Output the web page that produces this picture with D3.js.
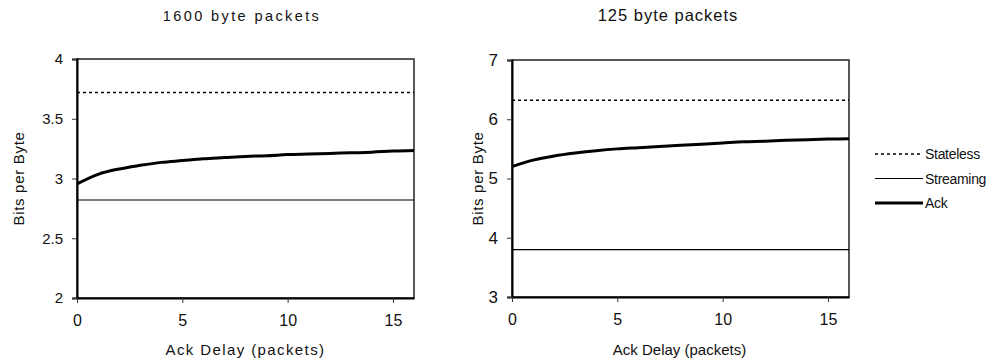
<!DOCTYPE html>
<html>
<head>
	<meta charset="utf-8">
	<style type="text/css">
		body{
			margin: 0;
			background-color: white;
		}
		svg text{
			font-family: "Liberation Sans", Arial, sans-serif;
			fill: #111;
		}
	</style>
	<script src="https://cdn.jsdelivr.net/npm/d3@7"></script>
</head>
<body>
	<div id="chart"></div>

	<script type="text/javascript">
		// values
		const ackDelay = [0, 1, 2, 3, 4, 5, 6, 7, 8, 9, 10, 11, 12, 13, 14, 15, 16];
		const ack1600 = [2.955, 3.035, 3.08, 3.11, 3.135, 3.15, 3.165, 3.175, 3.185, 3.19, 3.2, 3.205, 3.21, 3.215, 3.22, 3.23, 3.235];
		const ack125 = [5.2, 5.31, 5.38, 5.43, 5.47, 5.5, 5.52, 5.54, 5.56, 5.58, 5.6, 5.62, 5.63, 5.645, 5.655, 5.665, 5.67];
		const stateless1600 = 3.72, streaming1600 = 2.82;
		const stateless125 = 6.32, streaming125 = 3.8;
		const xTicks = [0, 5, 10, 15];
		const yTicks1600 = [2, 2.5, 3, 3.5, 4];
		const yTicks125 = [3, 4, 5, 6, 7];
		const legendNames = ['Stateless', 'Streaming', 'Ack'];

		const [W, H] = [997, 362];
		const svg = d3.select('#chart')
		.append('svg')
		.attr('width', W)
		.attr('height', H);

		const styles = {
			Stateless: {w: 1.6, dash: '3,3'},
			Streaming: {w: 1.1, dash: null},
			Ack: {w: 3, dash: null}
		};

		function panel(o){
			const x = d3.scaleLinear().domain([0, 16]).range([o.left, o.right]);
			const y = d3.scaleLinear().domain(o.yDomain).range([o.bottom, o.top]);
			const g = svg.append('g');

			// frame
			g.append('rect')
			.attr('x', o.left).attr('y', o.top)
			.attr('width', o.right - o.left).attr('height', o.bottom - o.top)
			.attr('fill', 'none').attr('stroke', '#222').attr('stroke-width', 1.5);

			const yAxis = g.append('g')
			.attr('transform', `translate(${o.left},0)`)
			.call(d3.axisLeft(y).tickValues(o.yTicks).tickSize(5).tickPadding(9).tickFormat(d3.format('')));
			yAxis.selectAll('text').attr('font-size', o.yFont).style('font-family', null);
			yAxis.select('.domain').attr('stroke-width', 2);

			const xAxis = g.append('g')
			.attr('transform', `translate(0,${o.bottom})`)
			.call(d3.axisBottom(x).tickValues(xTicks).tickSize(5).tickPadding(12).tickSizeOuter(0));
			xAxis.selectAll('text').attr('font-size', 16).style('font-family', null);
			xAxis.select('.domain').attr('stroke-width', 2);
			svg.selectAll('.tick line').attr('stroke', '#333');

			// flat reference lines
			[['Stateless', o.stateless], ['Streaming', o.streaming]].forEach(([k, v]) => {
				g.append('line')
				.attr('x1', x(0)).attr('x2', x(16))
				.attr('y1', y(v)).attr('y2', y(v))
				.attr('stroke', '#000')
				.attr('stroke-width', styles[k].w)
				.attr('stroke-dasharray', styles[k].dash);
			});

			g.append('path')
			.datum(ackDelay.map((d, i) => [d, o.ack[i]]))
			.attr('fill', 'none')
			.attr('stroke', '#000')
			.attr('stroke-width', styles.Ack.w)
			.attr('stroke-linejoin', 'round')
			.attr('d', d3.line().x(d => x(d[0])).y(d => y(d[1])).curve(d3.curveMonotoneX));

			g.append('text')
			.attr('x', o.titleX).attr('y', 21)
			.attr('text-anchor', 'middle')
			.attr('font-size', o.titleFont)
			.attr('letter-spacing', o.titleSpacing)
			.text(o.title);

			g.append('text')
			.attr('x', (o.left + o.right) / 2 + o.xLabelShift).attr('y', 355)
			.attr('text-anchor', 'middle')
			.attr('font-size', 15)
			.attr('letter-spacing', o.labelSpacing)
			.text('Ack Delay (packets)');

			g.append('text')
			.attr('transform', `translate(${o.yLabelX},${(o.top + o.bottom) / 2}) rotate(-90)`)
			.attr('text-anchor', 'middle')
			.attr('font-size', 15)
			.attr('letter-spacing', 0.7)
			.text('Bits per Byte');
		}

		panel({
			left: 77, right: 414, top: 59, bottom: 298,
			yDomain: [2, 4], yTicks: yTicks1600, yFont: 15,
			ack: ack1600, stateless: stateless1600, streaming: streaming1600,
			title: '1600 byte packets', titleX: 242, titleFont: 14.5, titleSpacing: 2.4,
			xLabelShift: 0, labelSpacing: 1.4, yLabelX: 24
		});

		panel({
			left: 512, right: 849, top: 60, bottom: 297,
			yDomain: [3, 7], yTicks: yTicks125, yFont: 17,
			ack: ack125, stateless: stateless125, streaming: streaming125,
			title: '125 byte packets', titleX: 668, titleFont: 16.5, titleSpacing: 1,
			xLabelShift: -1, labelSpacing: 0, yLabelX: 483
		});

		// legend
		const legend = svg.append('g').attr('transform', 'translate(875,154)');
		legendNames.forEach((k, i) => {
			const row = legend.append('g').attr('transform', `translate(0,${i * 24.5})`);
			row.append('line')
			.attr('x1', 0).attr('x2', 48)
			.attr('stroke', '#000')
			.attr('stroke-width', styles[k].w)
			.attr('stroke-dasharray', styles[k].dash);
			row.append('text')
			.attr('x', 50).attr('y', 5)
			.attr('font-size', 14)
			.attr('letter-spacing', -0.3)
			.text(k);
		});
	</script>
</body>
</html>
